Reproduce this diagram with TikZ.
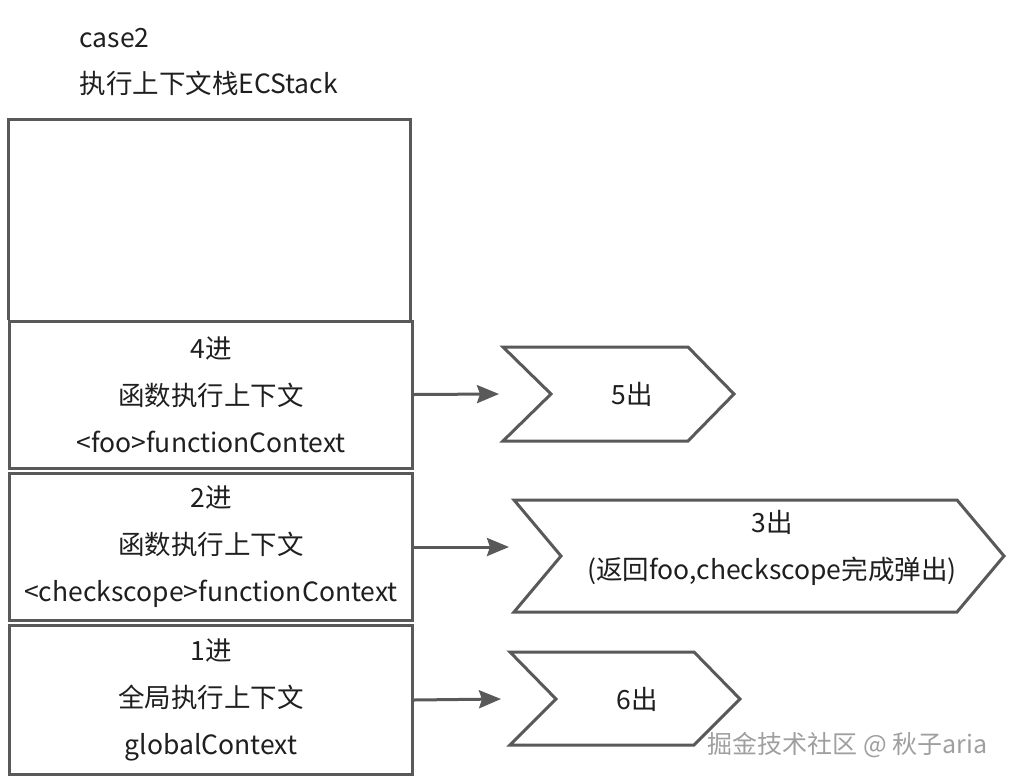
\documentclass[tikz,border=0pt]{standalone}
\usepackage{fontspec}
\setmainfont{Noto Sans CJK SC}
\usetikzlibrary{arrows.meta}
\definecolor{edge}{HTML}{595959}
\definecolor{ink}{HTML}{1F1F1F}
\begin{document}
\begin{tikzpicture}[x=1pt,y=-1pt,
  box/.style={draw=edge,line width=3pt,fill=white,inner sep=0pt},
  boxtext/.style={align=center,text=ink,font=\fontsize{26.5}{47}\selectfont},
  chev/.style={draw=edge,line width=3pt,line join=miter,fill=white},
  arr/.style={draw=edge,line width=3pt,-{Stealth[length=22pt,width=18pt,inset=3pt]}},
  title/.style={anchor=west,text=ink,font=\fontsize{26.5}{30}\selectfont}]
\useasboundingbox (0,0) rectangle (1012,782);
\node[title] (t1) at (76,38) {case2};
\node[title] (t2) at (76,83) {执行上下文栈ECStack};
% outer stack frame
\draw[edge,line width=3pt] (8.5,320) -- (8.5,119.5) -- (410.5,119.5) -- (410.5,320);
% boxes
\node[box,minimum width=403pt,minimum height=147pt] (b4) at (211,394.5) {};
\node[box,minimum width=403pt,minimum height=147pt] (b2) at (211,547) {};
\node[box,minimum width=403pt,minimum height=149pt] (b1) at (211,700) {};
\node[boxtext] (l4) at (b4) {4进\\函数执行上下文\\<foo>functionContext};
\node[boxtext] (l2) at (b2) {2进\\函数执行上下文\\<checkscope>functionContext};
\node[boxtext] (l1) at (b1) {1进\\全局执行上下文\\globalContext};
% chevrons
\draw[chev] (503,347) coordinate (c5a) -- (688,347) -- (734,394) -- (688,441) -- (503,441) -- (551,394) coordinate (c5n) -- cycle;
\draw[chev] (514,500) coordinate (c3a) -- (957,500) -- (1004,556) -- (957,612) -- (514,612) -- (561,556) coordinate (c3n) -- cycle;
\draw[chev] (510,652) coordinate (c6a) -- (694,652) -- (740,699) -- (694,745) -- (510,745) -- (556,699) coordinate (c6n) -- cycle;
\node[text=ink,font=\fontsize{26.5}{30}\selectfont] (o5) at (632,394) {5出};
\node[text=ink,font=\fontsize{26.5}{47}\selectfont,align=center] (o3) at (772,548) {3出\\(返回foo,checkscope完成弹出)};
\node[text=ink,font=\fontsize{26.5}{30}\selectfont] (o6) at (637,699) {6出};
% arrows
\coordinate (e5) at (499,394);
\coordinate (e3) at (509,547);
\coordinate (e6) at (501,699);
\draw[arr] (b4.east) -- (e5);
\draw[arr] (b2.east) -- (e3);
\draw[arr] (b1.east) -- (e6);
% watermark
\node[anchor=west,text=gray!75,draw=none,font=\fontsize{25}{28}\selectfont] (wm) at (704,745) {掘金技术社区 @ 秋子aria};
\end{tikzpicture}
\end{document}
